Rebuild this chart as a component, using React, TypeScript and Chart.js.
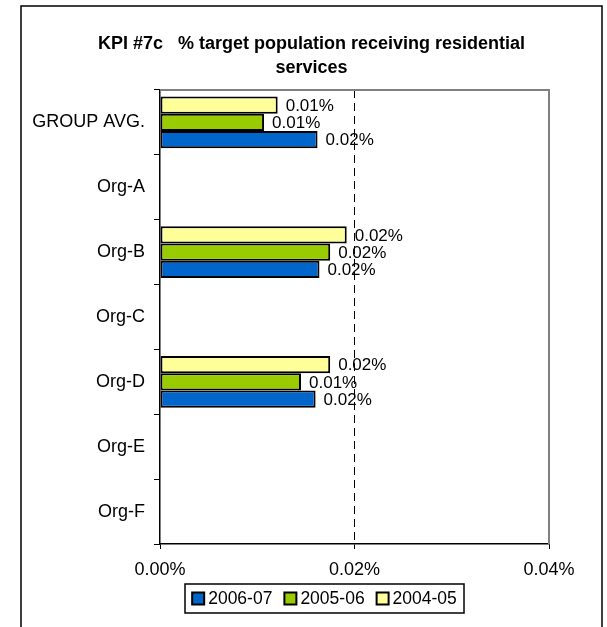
import React, { useEffect, useRef } from "react";
import { Chart, registerables } from "chart.js";

Chart.register(...registerables);

const titleLines = ["KPI #7c   % target population receiving residential", "services"];
const categories = ["GROUP AVG.", "Org-A", "Org-B", "Org-C", "Org-D", "Org-E", "Org-F"];
const seriesNames = ["2004-05", "2005-06", "2006-07"];
const series0405 = [0.0121, null, 0.0192, null, 0.0175, null, null];
const series0506 = [0.0107, null, 0.0175, null, 0.0145, null, null];
const series0607 = [0.0162, null, 0.0164, null, 0.016, null, null];
const seriesColors = ["#FFFF99", "#99CC00", "#0066CC"];
const xTicks = [0, 0.02, 0.04];

const FONT = "'Liberation Sans', Arial, sans-serif";

const framePlugin = {
  id: "frame",
  beforeDraw(chart: any) {
    const ctx = chart.ctx;
    ctx.save();
    ctx.fillStyle = "#fff";
    ctx.fillRect(0, 0, chart.width, chart.height);
    ctx.strokeStyle = "#000";
    ctx.lineWidth = 1.5;
    ctx.strokeRect(21, 6, 581, 700);
    ctx.restore();
  },
  afterDraw(chart: any) {
    const ctx = chart.ctx;
    const a = chart.chartArea;
    ctx.save();
    ctx.strokeStyle = "#808080";
    ctx.lineWidth = 2;
    ctx.beginPath();
    ctx.moveTo(a.left, a.top);
    ctx.lineTo(a.right, a.top);
    ctx.lineTo(a.right, a.bottom);
    ctx.stroke();
    ctx.fillStyle = "#000";
    ctx.font = "bold 18px " + FONT;
    ctx.textAlign = "center";
    ctx.textBaseline = "middle";
    titleLines.forEach((t, i) => ctx.fillText(t, 311.5, 44 + i * 24));
    const dsets = chart.data.datasets.slice().reverse();
    ctx.font = "17.5px " + FONT;
    ctx.textAlign = "left";
    const sq = 12, gapT = 4, gapI = 12;
    const widths = dsets.map((d: any) => sq + gapT + ctx.measureText(d.label).width);
    const total = widths.reduce((s: number, w: number) => s + w, 0) + gapI * (dsets.length - 1);
    const boxL = 185, boxR = 464, boxT = 584, boxB = 613;
    ctx.strokeStyle = "#000";
    ctx.lineWidth = 1.5;
    ctx.strokeRect(boxL, boxT, boxR - boxL, boxB - boxT);
    let x = (boxL + boxR) / 2 - total / 2;
    const cy = (boxT + boxB) / 2;
    dsets.forEach((d: any, i: number) => {
      ctx.fillStyle = d.backgroundColor;
      ctx.fillRect(x, cy - sq / 2, sq, sq);
      ctx.lineWidth = 2;
      ctx.strokeRect(x, cy - sq / 2, sq, sq);
      ctx.fillStyle = "#000";
      ctx.fillText(d.label, x + sq + gapT, cy + 1);
      x += widths[i] + gapI;
    });
    ctx.restore();
  },
  afterDatasetsDraw(chart: any) {
    const ctx = chart.ctx;
    ctx.save();
    ctx.font = "17px " + FONT;
    ctx.fillStyle = "#000";
    ctx.textAlign = "left";
    ctx.textBaseline = "middle";
    chart.data.datasets.forEach((d: any, di: number) => {
      const meta = chart.getDatasetMeta(di);
      meta.data.forEach((el: any, i: number) => {
        const v = d.data[i];
        if (v === null || v === undefined) return;
        ctx.fillText(v.toFixed(2) + "%", el.x + 8, el.y + 1);
      });
    });
    ctx.restore();
  },
};

export default function App() {
  const ref = useRef<HTMLCanvasElement>(null);
  useEffect(() => {
    const values = [series0405, series0506, series0607];
    const chart = new Chart(ref.current!, {
      type: "bar",
      data: {
        labels: categories,
        datasets: seriesNames.map((n, i) => ({
          label: n,
          data: values[i],
          backgroundColor: seriesColors[i],
          borderColor: "#000",
          borderWidth: 2,
          borderSkipped: false,
          categoryPercentage: 0.8,
          barPercentage: 1.0,
        })) as any,
      },
      options: {
        indexAxis: "y",
        animation: false,
        responsive: false,
        maintainAspectRatio: false,
        layout: { padding: { top: 90, right: 58, left: 0, bottom: 0 } },
        plugins: {
          legend: { display: false },
          title: { display: false },
          tooltip: { enabled: false },
        },
        scales: {
          x: {
            min: 0,
            max: 0.04,
            afterBuildTicks: (s: any) => {
              s.ticks = xTicks.map((v) => ({ value: v }));
            },
            afterFit: (s: any) => {
              s.height = 83;
            },
            ticks: {
              color: "#000",
              font: { family: FONT, size: 18 },
              padding: 10,
              maxRotation: 0,
              callback: (v: any) => Number(v).toFixed(2) + "%",
            },
            grid: {
              drawOnChartArea: true,
              color: (c: any) => (c.tick && Math.abs(c.tick.value - 0.02) < 1e-9 ? "#000" : "rgba(0,0,0,0)"),
              lineWidth: 1,
              tickColor: "#000",
              tickLength: 5,
              tickWidth: 1,
            },
            border: { display: true, color: "#000", width: 1.5, dash: [8, 5] },
          },
          y: {
            afterFit: (s: any) => {
              s.width = 160;
            },
            ticks: {
              color: "#000",
              font: { family: FONT, size: 18 },
              padding: 9,
            },
            grid: {
              offset: true,
              drawOnChartArea: false,
              tickColor: "#000",
              tickLength: 6,
              tickWidth: 1,
            },
            border: { display: true, color: "#000", width: 1.5 },
          },
        },
      },
      plugins: [framePlugin],
    });
    return () => chart.destroy();
  }, []);
  return (
    <div style={{ position: "fixed", left: 0, top: 0, width: 607, height: 627 }}>
      <canvas ref={ref} width={607} height={627} style={{ width: 607, height: 627, display: "block" }} />
    </div>
  );
}
